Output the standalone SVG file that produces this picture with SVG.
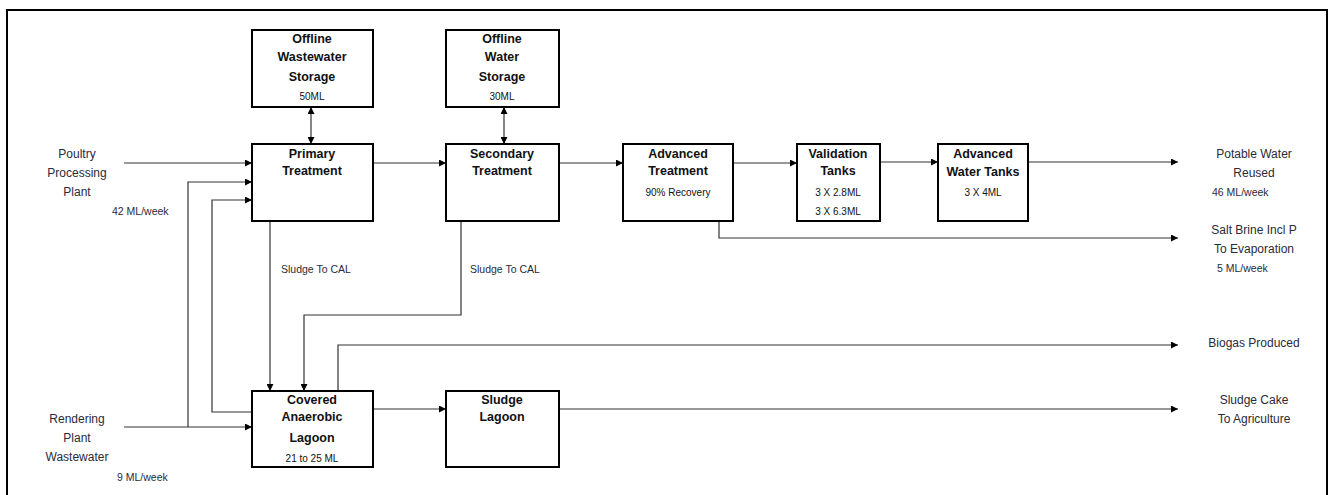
<svg xmlns="http://www.w3.org/2000/svg" width="1330" height="495" viewBox="0 0 1330 495">
<style>
.frame{fill:none;stroke:#000;stroke-width:2}
.box{fill:#fff;stroke:#000;stroke-width:2}
.b{font-family:"Liberation Sans",Arial,sans-serif;font-weight:bold;font-size:12.5px;fill:#111;text-anchor:middle}
.s{font-family:"Liberation Sans",Arial,sans-serif;font-size:10px;fill:#111;text-anchor:middle}
.l{font-family:"Liberation Sans",Arial,sans-serif;font-size:12px;fill:#2a2a3a;text-anchor:middle}
.ls{font-family:"Liberation Sans",Arial,sans-serif;font-size:10.5px;fill:#2a2a3a}
.c{fill:none;stroke:#333;stroke-width:1.2}
</style>
<defs>
<marker id="ah" viewBox="0 0 10 10" refX="10" refY="5" markerWidth="7" markerHeight="7" markerUnits="userSpaceOnUse" orient="auto">
<path d="M0,0 L10,5 L0,10 Z" fill="#000"/>
</marker>
<marker id="as" viewBox="0 0 10 10" refX="0" refY="5" markerWidth="7" markerHeight="7" markerUnits="userSpaceOnUse" orient="auto">
<path d="M10,0 L0,5 L10,10 Z" fill="#000"/>
</marker>
</defs>
<rect class="frame" x="7" y="10" width="1320" height="500"/>

<g id="connectors">
<line class="c" x1="124" y1="163" x2="252" y2="163" marker-end="url(#ah)"/>
<polyline class="c" points="124,427 252,427" marker-end="url(#ah)"/>
<polyline class="c" points="188,427 188,182 252,182" marker-end="url(#ah)"/>
<polyline class="c" points="252,412 212,412 212,200 252,200" marker-end="url(#ah)"/>
<line class="c" x1="311" y1="107" x2="311" y2="144" marker-start="url(#as)" marker-end="url(#ah)"/>
<line class="c" x1="504" y1="107" x2="504" y2="144" marker-start="url(#as)" marker-end="url(#ah)"/>
<line class="c" x1="373" y1="163" x2="446" y2="163" marker-end="url(#ah)"/>
<line class="c" x1="270" y1="221" x2="270" y2="391" marker-end="url(#ah)"/>
<polyline class="c" points="461,221 461,315 304,315 304,391" marker-end="url(#ah)"/>
<polyline class="c" points="338,391 338,345 1178,345" marker-end="url(#ah)"/>
<line class="c" x1="559" y1="163" x2="623" y2="163" marker-end="url(#ah)"/>
<line class="c" x1="733" y1="163" x2="797" y2="163" marker-end="url(#ah)"/>
<line class="c" x1="880" y1="162" x2="938" y2="162" marker-end="url(#ah)"/>
<line class="c" x1="1028" y1="162" x2="1178" y2="162" marker-end="url(#ah)"/>
<polyline class="c" points="719,221 719,238 1178,238" marker-end="url(#ah)"/>
<line class="c" x1="373" y1="409" x2="446" y2="409" marker-end="url(#ah)"/>
<line class="c" x1="559" y1="409" x2="1178" y2="409" marker-end="url(#ah)"/>
</g>

<g id="offline-wastewater-storage">
<rect class="box" x="252" y="30" width="121" height="77"/>
<text class="b" x="312" y="43">Offline</text>
<text class="b" x="312" y="61">Wastewater</text>
<text class="b" x="312" y="81">Storage</text>
<text class="s" x="312" y="100">50ML</text>
</g>
<g id="primary-treatment">
<rect class="box" x="252" y="144" width="121" height="77"/>
<text class="b" x="312" y="158">Primary</text>
<text class="b" x="312" y="175">Treatment</text>
</g>
<g id="offline-water-storage">
<rect class="box" x="446" y="30" width="113" height="77"/>
<text class="b" x="502" y="43">Offline</text>
<text class="b" x="502" y="61">Water</text>
<text class="b" x="502" y="81">Storage</text>
<text class="s" x="502" y="100">30ML</text>
</g>
<g id="secondary-treatment">
<rect class="box" x="446" y="144" width="113" height="77"/>
<text class="b" x="502" y="158">Secondary</text>
<text class="b" x="502" y="175">Treatment</text>
</g>
<g id="advanced-treatment">
<rect class="box" x="623" y="144" width="110" height="77"/>
<text class="b" x="678" y="158">Advanced</text>
<text class="b" x="678" y="175">Treatment</text>
<text class="s" x="678" y="196">90% Recovery</text>
</g>
<g id="validation-tanks">
<rect class="box" x="797" y="144" width="83" height="77"/>
<text class="b" x="838" y="158">Validation</text>
<text class="b" x="838" y="175">Tanks</text>
<text class="s" x="838" y="196">3 X 2.8ML</text>
<text class="s" x="838" y="215">3 X 6.3ML</text>
</g>
<g id="advanced-water-tanks">
<rect class="box" x="938" y="144" width="90" height="77"/>
<text class="b" x="983" y="158">Advanced</text>
<text class="b" x="983" y="176">Water Tanks</text>
<text class="s" x="983" y="196">3 X 4ML</text>
</g>
<g id="covered-anaerobic-lagoon">
<rect class="box" x="252" y="391" width="121" height="76"/>
<text class="b" x="312" y="404">Covered</text>
<text class="b" x="312" y="421">Anaerobic</text>
<text class="b" x="312" y="442">Lagoon</text>
<text class="s" x="312" y="462">21 to 25 ML</text>
</g>
<g id="sludge-lagoon">
<rect class="box" x="446" y="391" width="113" height="76"/>
<text class="b" x="502" y="404">Sludge</text>
<text class="b" x="502" y="421">Lagoon</text>
</g>

<g id="poultry-processing-plant">
<text class="l" x="77" y="158">Poultry</text>
<text class="l" x="77" y="177">Processing</text>
<text class="l" x="77" y="196">Plant</text>
<text class="ls" x="112" y="215">42 ML/week</text>
</g>
<g id="rendering-plant-wastewater">
<text class="l" x="77" y="423">Rendering</text>
<text class="l" x="77" y="442">Plant</text>
<text class="l" x="77" y="461">Wastewater</text>
<text class="ls" x="117" y="481">9 ML/week</text>
</g>
<g id="sludge-labels">
<text class="ls" x="281" y="273">Sludge To CAL</text>
<text class="ls" x="470" y="273">Sludge To CAL</text>
</g>
<g id="potable-water-reused">
<text class="l" x="1254" y="158">Potable Water</text>
<text class="l" x="1254" y="177">Reused</text>
<text class="ls" x="1212" y="196">46 ML/week</text>
</g>
<g id="salt-brine">
<text class="l" x="1254" y="234">Salt Brine Incl P</text>
<text class="l" x="1254" y="253">To Evaporation</text>
<text class="ls" x="1217" y="272">5 ML/week</text>
</g>
<g id="biogas-produced">
<text class="l" x="1254" y="347">Biogas Produced</text>
</g>
<g id="sludge-cake">
<text class="l" x="1254" y="404">Sludge Cake</text>
<text class="l" x="1254" y="423">To Agriculture</text>
</g>
</svg>
